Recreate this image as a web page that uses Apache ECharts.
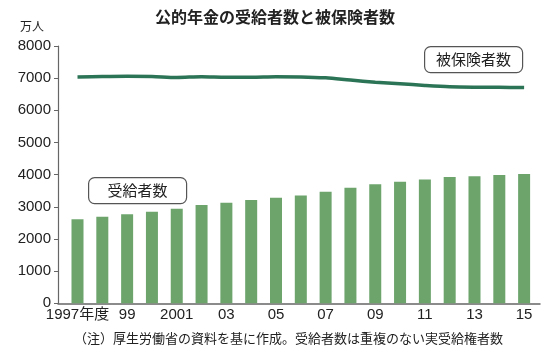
<!DOCTYPE html>
<html><head><meta charset="utf-8">
<script src="https://cdn.jsdelivr.net/npm/echarts@6/dist/echarts.min.js"></script>
<style>html,body{margin:0;padding:0;background:#fff}#c{width:550px;height:355px}</style>
</head><body><div id="c"></div>
<script>
const years = [1997,1998,1999,2000,2001,2002,2003,2004,2005,2006,2007,2008,2009,2010,2011,2012,2013,2014,2015];
const recipients = [2610,2690,2770,2850,2940,3060,3130,3210,3280,3350,3470,3590,3700,3780,3850,3930,3950,3990,4020];
const insured = [7040,7050,7060,7050,7020,7045,7030,7030,7045,7040,7010,6940,6875,6825,6775,6735,6720,6715,6710];
const labelYears = [1997,1999,2001,2003,2005,2007,2009,2011,2013,2015];
const xLabels = ['1997年度','99','2001','03','05','07','09','11','13','15'];
const yTicks = [0,1000,2000,3000,4000,5000,6000,7000,8000];

const FONT = 'Liberation Sans, Arial, "Noto Sans CJK JP", sans-serif';
const JFONT = '"Noto Sans CJK JP", sans-serif';
const chart = echarts.init(document.getElementById('c'), null, {renderer:'canvas'});
chart.setOption({
  animation:false,
  backgroundColor:'#fff',
  grid:{left:58, right:10, top:46, bottom:51.7},
  xAxis:{
    type:'value', min:1996.214, max:2015.64,
    splitLine:{show:false},
    axisLine:{show:true, lineStyle:{color:'#666', width:1.5}},
    axisTick:{show:false},
    axisLabel:{
      customValues: labelYears,
      formatter: v => xLabels[labelYears.indexOf(v)],
      color:'#222', fontSize:15, fontFamily:FONT, margin:4
    }
  },
  yAxis:{
    type:'value', min:yTicks[0], max:yTicks[yTicks.length-1], interval:1000,
    splitLine:{show:false},
    axisLine:{show:true, lineStyle:{color:'#666', width:1.2}},
    axisTick:{show:true, length:4, lineStyle:{color:'#666'}},
    axisLabel:{color:'#222', fontSize:15, fontFamily:FONT, margin:7, formatter: v => String(v)}
  },
  series:[
    {name:'受給者数', type:'bar', barWidth:12,
     itemStyle:{color:'#6ca46c'},
     data: years.map((y,i)=>[y, recipients[i]])},
    {name:'被保険者数', type:'line', smooth:0.3, symbol:'none',
     lineStyle:{color:'#2c7456', width:3.5},
     data: years.map((y,i)=>[y, insured[i]])}
  ],
  graphic:[
    {type:'text', left:'center', top:9, style:{text:'公的年金の受給者数と被保険者数', font:'bold 16px '+JFONT, fill:'#222'}},
    {type:'text', left:20, top:20, style:{text:'万人', font:'12px '+JFONT, fill:'#222'}},
    {type:'group', left:424, top:46, children:[
      {type:'rect', shape:{x:0,y:0,width:98,height:26,r:6}, style:{fill:'#fff', stroke:'#555', lineWidth:1.2}},
      {type:'text', style:{x:49, y:13, text:'被保険者数', font:'15px '+JFONT, fill:'#222', align:'center', verticalAlign:'middle'}}
    ]},
    {type:'group', left:88, top:177, children:[
      {type:'rect', shape:{x:0,y:0,width:98,height:26,r:6}, style:{fill:'#fff', stroke:'#555', lineWidth:1.2}},
      {type:'text', style:{x:49, y:13, text:'受給者数', font:'15px '+JFONT, fill:'#222', align:'center', verticalAlign:'middle'}}
    ]},
    {type:'text', left:74, top:332, style:{text:'（注）厚生労働省の資料を基に作成。受給者数は重複のない実受給権者数', font:'13px '+JFONT, fill:'#222'}}
  ]
});
</script></body></html>
